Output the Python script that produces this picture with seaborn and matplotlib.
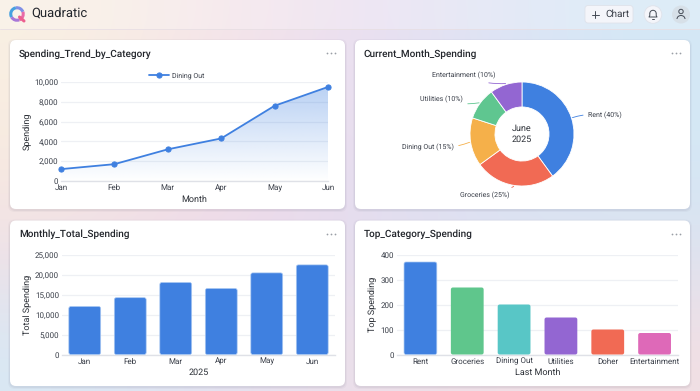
import numpy as np
import pandas as pd
import seaborn as sns
import matplotlib.pyplot as plt
from matplotlib.colors import to_rgb
from matplotlib.patches import FancyBboxPatch, Circle, Arc
from matplotlib.ticker import FuncFormatter

# --- data ---
months = ['Jan', 'Feb', 'Mar', 'Apr', 'May', 'Jun']
dining_out = [1200, 1700, 3200, 4300, 7600, 9500]
monthly_total = [12000, 14200, 18000, 16500, 20400, 22400]

donut_labels = ['Rent', 'Groceries', 'Dining Out', 'Utilities', 'Entertainment']
donut_share = [40, 25, 15, 10, 10]
donut_colors = ['#3f80e0', '#f16a54', '#f5b04a', '#5fc690', '#9366d2']

top_categories = ['Rent', 'Groceries', 'Dining Out', 'Utilities', 'Doher', 'Entertainment']
top_spending = [370, 268, 200, 148, 100, 86]
top_colors = ['#3f80e0', '#5fc68c', '#58c6c6', '#9366d2', '#f16a54', '#de69b8']

BLUE = '#3f80e0'
INK = '#2b2f36'
GRID = '#eef0f4'
W, H = 700, 391

sns.set_theme(style='white')
plt.rcParams['font.family'] = ['Roboto', 'DejaVu Sans']
plt.rcParams['axes.unicode_minus'] = False
plt.rcParams['text.hinting'] = 'none'
plt.rcParams['text.hinting_factor'] = 1

fig = plt.figure(figsize=(7, 3.91), dpi=100)


def px_axes(x0, y0, x1, y1, **kw):
    # axes placed from pixel edges, y counted from the top
    return fig.add_axes([x0 / W, 1 - y1 / H, (x1 - x0) / W, (y1 - y0) / H], **kw)


# --- page background ---
bg = px_axes(0, 0, W, H)
bg_grid = [['#f9f0e3', '#f6e6e9', '#ecdff0', '#dfe4f5', '#d4e8f6'],
           ['#f8ecdf', '#f3dde6', '#e8dcef', '#dbe2f3', '#d4e8f5'],
           ['#f2e0e6', '#efd9e8', '#e4dcef', '#dbe3f3', '#dbe3f1'],
           ['#d8e8f4', '#e3e2f0', '#ecdfea', '#f0dfe6', '#f2dfe4']]
bg.imshow([[to_rgb(c) for c in row] for row in bg_grid], aspect='auto',
          interpolation='bicubic', extent=(0, W, H, 0), zorder=0)
bg.set_xlim(0, W)
bg.set_ylim(H, 0)
bg.axis('off')
bg.axhspan(0, 29, color='white', alpha=0.22, lw=0, zorder=1)
bg.plot([0, W], [29, 29], color='#e8dfe4', lw=0.6, zorder=1)

# cards
cards = [(10, 40, 345, 209), (355, 40, 690, 209), (10, 220.5, 345, 386), (355, 220.5, 690, 386)]
titles = ['Spending_Trend_by_Category', 'Current_Month_Spending',
          'Monthly_Total_Spending', 'Top_Category_Spending']
for (x0, y0, x1, y1), title in zip(cards, titles):
    for grow, alpha in [(2.0, 0.05), (1.0, 0.08)]:
        bg.add_patch(FancyBboxPatch((x0 - grow, y0 - grow + 1), x1 - x0 + 2 * grow, y1 - y0 + 2 * grow,
                                    boxstyle='round,pad=0,rounding_size=7', fc='#6a6a80', ec='none',
                                    alpha=alpha, zorder=2))
    bg.add_patch(FancyBboxPatch((x0, y0), x1 - x0, y1 - y0, boxstyle='round,pad=0,rounding_size=6',
                                fc='white', ec='none', zorder=3))
    bg.text(x0 + 9, y0 + 14, title, fontsize=7.2, fontweight='medium', color='#23262c',
            va='center', ha='left', zorder=4)
    bg.scatter([x1 - 18, x1 - 14, x1 - 10], [y0 + 13] * 3, s=1.6, color='#9a9ea6', lw=0, zorder=4)

# header: logo, name, button, icons
# y is inverted here, so arc angles run clockwise on screen
for start, end, col in [(150, 260, '#46a0e0'), (260, 340, '#7f8fe6'), (340, 70, '#e86aa8'), (70, 150, '#a877d8')]:
    bg.add_patch(Arc((17, 14), 12.5, 12.5, theta1=start, theta2=end, color=col, lw=2.2, zorder=4))
bg.plot([19.5, 24], [17, 21], color='#ec5f8f', lw=2.2, zorder=4, solid_capstyle='round')
bg.text(31, 14, 'Quadratic', fontsize=9, color='#23262c', va='center', ha='left', zorder=4)

bg.add_patch(FancyBboxPatch((585, 5.5), 48, 17.5, boxstyle='round,pad=0,rounding_size=3', fc='#f4f5fa',
                            ec='#dfe2ea', lw=0.6, zorder=4))
bg.plot([592, 598.5], [14.5, 14.5], color='#444a55', lw=0.7, zorder=5)
bg.plot([595.2, 595.2], [11, 18], color='#444a55', lw=0.7, zorder=5)
bg.text(605, 14.3, 'Chart', fontsize=7, color='#3a3f49', va='center', ha='left', zorder=5)

bg.add_patch(Circle((653, 14.5), 8.8, fc='#f4f5fa', ec='#dfe2ea', lw=0.6, zorder=4))
bg.add_patch(Arc((653, 13.5), 6.4, 6.4, theta1=180, theta2=360, color='#444a55', lw=0.7, zorder=5))
bg.plot([649.8, 649.8, 649, 657, 656.2, 656.2], [13.5, 15.5, 17, 17, 15.5, 13.5], color='#444a55', lw=0.7, zorder=5)
bg.plot([652, 654], [18.7, 18.7], color='#444a55', lw=0.7, zorder=5)

bg.add_patch(Circle((681, 14.5), 9, fc='#d7e0e8', ec='none', zorder=4))
bg.add_patch(Circle((681, 11.5), 2.2, fc='none', ec='#444a55', lw=0.7, zorder=5))
bg.add_patch(Arc((681, 19), 8, 7, theta1=180, theta2=360, color='#444a55', lw=0.7, zorder=5))


def style_axes(ax, xlabel, ylabel, yticks, label_x):
    ax.patch.set_alpha(0)
    sns.despine(ax=ax, left=True)
    ax.spines['bottom'].set_color('#dfe1e7')
    ax.spines['bottom'].set_linewidth(1)
    ax.set_yticks(yticks)
    ax.yaxis.set_major_formatter(FuncFormatter(lambda v, _: f'{int(v):,}'))
    ax.tick_params(axis='both', length=0, labelsize=5.7, labelcolor='#3a3f49', pad=2.2)
    ax.grid(axis='y', color=GRID, lw=0.9)
    ax.set_axisbelow(True)
    ax.set_xlabel(xlabel, fontsize=6.3, color=INK, labelpad=2.5)
    ax.set_ylabel(ylabel, fontsize=6.3, color=INK)
    # y label right edge given in pixels from the left of the figure
    left = ax.get_position().x0 * W
    width = ax.get_position().width * W
    ax.yaxis.set_label_coords((label_x - left) / width, 0.5)


def round_bars(ax, colors, radius=2.0):
    # swap seaborn's square bars for slightly rounded ones
    bbox = ax.get_window_extent()
    x_span = ax.get_xlim()[1] - ax.get_xlim()[0]
    y_span = ax.get_ylim()[1] - ax.get_ylim()[0]
    aspect = (y_span / bbox.height) / (x_span / bbox.width)
    rx = radius * x_span / bbox.width
    for bar, col in zip(list(ax.patches), colors):
        bar.set_visible(False)
        ax.add_patch(FancyBboxPatch((bar.get_x(), 0), bar.get_width(), bar.get_height(),
                                    boxstyle=f'round,pad=0,rounding_size={rx}', mutation_aspect=aspect,
                                    fc=col, ec='#a9c8f2' if col == BLUE else 'none', lw=0.5,
                                    zorder=3))


# --- line chart ---
ax1 = px_axes(61, 82, 328, 181)
trend = pd.DataFrame({'Month': months, 'Spending': dining_out})
sns.lineplot(data=trend, x='Month', y='Spending', ax=ax1, color=BLUE, lw=1.3, marker='o', ms=3.7,
             mec=BLUE, label='Dining Out', clip_on=False, zorder=4, sort=False)
ax1.set_xlim(0, 5)
ax1.set_ylim(0, 10000)
style_axes(ax1, 'Month', 'Spending', [0, 2000, 4000, 6000, 8000, 10000], 31.5)
area = ax1.fill_between(range(6), dining_out, 0, color='none', lw=0)
fade = np.ones((256, 1, 4))
fade[:, :, :3] = to_rgb(BLUE)
fade[:, 0, 3] = np.linspace(0.38, 0.0, 256)
shade = ax1.imshow(fade, extent=(0, 5, 0, 10000), aspect='auto', zorder=1)
shade.set_clip_path(area.get_paths()[0], transform=ax1.transData)
ax1.set_xlim(0, 5)
ax1.set_ylim(0, 10000)
leg = ax1.legend(loc='lower center', bbox_to_anchor=(0.434, 0.995), frameon=False, fontsize=5.4,
                 handlelength=2.6, handletextpad=0.5, borderpad=0, labelcolor='#3a3f49')

# --- donut ---
ax2 = px_axes(470, 82, 574, 186)
wedges, _ = ax2.pie(donut_share, colors=donut_colors, startangle=90, counterclock=False, radius=1,
                    wedgeprops=dict(width=0.48, edgecolor='white', linewidth=0.6))
ax2.set_xlim(-1, 1)
ax2.set_ylim(-1, 1)
ax2.text(0, 0, 'June\n2025', fontsize=6.7, color=INK, ha='center', va='center', linespacing=1.25)
# label anchor per slice: text offset from the rim, in points
offsets = [(11, 1.6), (-3, -6.2), (-11.2, -3.6), (-11.5, 2.2), (-7, 5.6)]
for wedge, name, share, col, off in zip(wedges, donut_labels, donut_share, donut_colors, offsets):
    mid = np.deg2rad((wedge.theta1 + wedge.theta2) / 2)
    tip = (1.02 * np.cos(mid), 1.02 * np.sin(mid))
    ha = 'left' if off[0] > 0 else 'right'
    ax2.annotate(f'{name} ({share}%)', xy=tip, xytext=off, textcoords='offset points', fontsize=5.4,
                 color='#3a3f49', ha=ha, va='center', annotation_clip=False,
                 arrowprops=dict(arrowstyle='-', color=col, lw=0.6, shrinkA=1, shrinkB=0,
                                 connectionstyle='arc3,rad=0.12'))

# --- monthly bars ---
ax3 = px_axes(62, 254.5, 335, 354.5)
totals = pd.DataFrame({'Month': months, 'Total': monthly_total})
sns.barplot(data=totals, x='Month', y='Total', ax=ax3, color=BLUE, width=0.7, saturation=1)
ax3.set_ylim(0, 25000)
style_axes(ax3, '2025', 'Total Spending', [0, 5000, 10000, 15000, 20000, 25000], 31.5)
round_bars(ax3, [BLUE] * len(months))

# --- top categories ---
ax4 = px_axes(397, 254.5, 678, 354.5)
top = pd.DataFrame({'Category': top_categories, 'Spending': top_spending})
sns.barplot(data=top, x='Category', y='Spending', ax=ax4, color=BLUE, width=0.7, saturation=1)
ax4.set_ylim(0, 400)
style_axes(ax4, 'Last Month', 'Top Spending', [0, 100, 200, 300, 400], 377)
round_bars(ax4, top_colors)

fig.savefig('out.png', dpi=100)
